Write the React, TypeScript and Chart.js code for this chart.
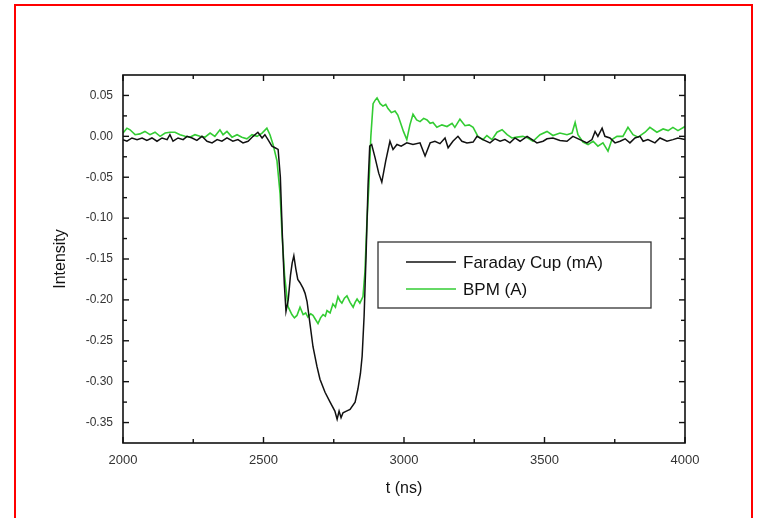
import React, { useEffect, useRef } from "react";
import { Chart, registerables } from "chart.js";

Chart.register(...registerables);

const fcTime = [2000,2014,2032,2050,2068,2085,2103,2121,2139,2157,2167,2178,2196,2214,2228,2246,2263,2281,2299,2317,2335,2352,2370,2391,2409,2427,2445,2463,2480,2495,2505,2516,2530,2541,2552,2560,2567,2574,2580,2588,2596,2602,2608,2615,2622,2630,2641,2648,2655,2665,2676,2690,2701,2719,2737,2754,2762,2769,2776,2783,2795,2808,2826,2836,2845,2851,2858,2865,2872,2878,2885,2897,2910,2921,2935,2950,2961,2975,2990,3010,3032,3057,3075,3093,3110,3128,3146,3157,3174,3192,3206,3224,3246,3260,3281,3306,3324,3342,3359,3377,3395,3413,3438,3456,3473,3495,3509,3530,3555,3580,3601,3626,3651,3669,3680,3690,3705,3715,3733,3751,3769,3787,3804,3822,3840,3851,3868,3893,3911,3936,3957,3975,4000];
const fcIntensity = [-0.004,-0.006,-0.002,-0.004,-0.002,-0.005,-0.002,-0.006,-0.002,-0.004,0.002,-0.006,-0.002,-0.004,0.0,-0.002,-0.005,0.0,-0.006,-0.008,-0.004,-0.006,-0.002,-0.006,-0.004,-0.008,-0.006,0.0,0.005,-0.002,0.002,-0.004,-0.012,-0.014,-0.016,-0.05,-0.12,-0.18,-0.214,-0.2,-0.17,-0.155,-0.146,-0.162,-0.175,-0.179,-0.186,-0.192,-0.202,-0.228,-0.257,-0.281,-0.297,-0.313,-0.325,-0.336,-0.346,-0.336,-0.344,-0.338,-0.336,-0.334,-0.325,-0.309,-0.29,-0.269,-0.22,-0.146,-0.06,-0.012,-0.01,-0.026,-0.045,-0.056,-0.03,-0.006,-0.016,-0.01,-0.012,-0.008,-0.01,-0.008,-0.024,-0.008,-0.006,-0.009,-0.002,-0.014,-0.006,0.0,-0.006,-0.008,-0.007,0.0,-0.004,-0.008,-0.003,-0.006,-0.004,-0.008,-0.002,-0.006,0.0,-0.004,-0.008,-0.006,-0.003,-0.002,-0.005,-0.006,0.0,-0.004,-0.008,-0.004,0.006,0.0,0.01,0.0,-0.002,-0.008,-0.006,-0.003,-0.008,-0.002,0.0,-0.006,-0.004,-0.008,-0.002,-0.006,-0.004,-0.002,-0.004];

const bpmTime = [2000,2014,2025,2043,2060,2078,2096,2114,2132,2150,2167,2185,2203,2221,2238,2256,2274,2292,2310,2327,2345,2356,2370,2388,2406,2423,2441,2459,2477,2495,2512,2523,2534,2548,2559,2566,2575,2587,2601,2610,2619,2630,2641,2650,2658,2668,2676,2685,2694,2703,2712,2720,2726,2737,2747,2756,2765,2772,2779,2788,2797,2808,2819,2826,2833,2843,2854,2861,2868,2875,2882,2890,2897,2904,2915,2925,2935,2943,2955,2968,2978,2986,2998,3010,3021,3032,3045,3057,3070,3082,3093,3103,3117,3135,3153,3171,3181,3199,3217,3232,3246,3263,3281,3295,3313,3331,3349,3367,3384,3402,3423,3441,3459,3484,3509,3530,3555,3580,3598,3609,3619,3637,3655,3673,3690,3708,3726,3740,3758,3779,3797,3815,3833,3858,3875,3900,3922,3940,3957,3975,4000];
const bpmIntensity = [0.004,0.01,0.008,0.002,0.003,0.006,0.002,0.005,0.0,0.004,0.005,0.005,0.002,0.0,-0.001,0.002,0.0,-0.001,0.004,0.0,0.008,0.002,0.006,-0.001,0.002,-0.001,-0.003,0.002,0.0,0.004,0.01,0.002,-0.01,-0.03,-0.07,-0.12,-0.17,-0.208,-0.218,-0.222,-0.219,-0.209,-0.218,-0.216,-0.221,-0.217,-0.219,-0.224,-0.229,-0.222,-0.218,-0.22,-0.213,-0.216,-0.205,-0.209,-0.196,-0.201,-0.204,-0.198,-0.195,-0.203,-0.209,-0.203,-0.199,-0.204,-0.196,-0.166,-0.105,-0.06,0.0,0.04,0.044,0.047,0.04,0.037,0.039,0.034,0.029,0.031,0.026,0.018,0.006,-0.004,0.014,0.027,0.02,0.018,0.022,0.02,0.016,0.017,0.011,0.014,0.012,0.016,0.011,0.021,0.013,0.014,0.011,0.0,-0.004,0.001,-0.004,0.005,0.008,0.002,-0.002,-0.001,0.0,-0.002,-0.006,0.002,0.006,0.001,0.004,0.002,0.004,0.017,0.002,-0.007,-0.01,-0.006,-0.012,-0.008,-0.018,-0.004,0.0,0.0,0.011,0.002,-0.001,0.005,0.011,0.005,0.009,0.007,0.011,0.007,0.012];

const seriesLabels = ["Faraday Cup (mA)", "BPM (A)"];
const seriesColors = ["#111111", "#33cc33"];

const xMajorTicks = [2000, 2500, 3000, 3500, 4000];
const xMinorTicks = [2250, 2750, 3250, 3750];
const yMajorTicks = [0.05, 0.0, -0.05, -0.1, -0.15, -0.2, -0.25, -0.3, -0.35];
const yMinorTicks = [0.075, 0.025, -0.025, -0.075, -0.125, -0.175, -0.225, -0.275, -0.325, -0.375];

const FONT = "'Liberation Sans', Arial, sans-serif";

const framePlugin = {
  id: "frameAndLegend",
  afterDatasetsDraw(chart: any) {
    const { ctx, chartArea, scales } = chart;
    const xs = scales.x;
    const ys = scales.y;
    const { left, right, top, bottom } = chartArea;
    ctx.save();
    ctx.strokeStyle = "#111";
    ctx.lineWidth = 1.6;
    ctx.strokeRect(left, top, right - left, bottom - top);
    ctx.lineWidth = 1.4;
    const tick = (x1: number, y1: number, x2: number, y2: number) => {
      ctx.beginPath();
      ctx.moveTo(x1, y1);
      ctx.lineTo(x2, y2);
      ctx.stroke();
    };
    const maj = 6, min = 4;
    xMajorTicks.forEach((v) => {
      const p = xs.getPixelForValue(v);
      tick(p, bottom, p, bottom - maj);
      tick(p, top, p, top + maj);
    });
    xMinorTicks.forEach((v) => {
      const p = xs.getPixelForValue(v);
      tick(p, bottom, p, bottom - min);
      tick(p, top, p, top + min);
    });
    yMajorTicks.forEach((v) => {
      const p = ys.getPixelForValue(v);
      tick(left, p, left + maj, p);
      tick(right, p, right - maj, p);
    });
    yMinorTicks.forEach((v) => {
      const p = ys.getPixelForValue(v);
      if (p < top + 1 || p > bottom - 1) return;
      tick(left, p, left + min, p);
      tick(right, p, right - min, p);
    });

    // legend box
    const bx = 378, by = 242, bw = 273, bh = 66;
    ctx.fillStyle = "#ffffff";
    ctx.fillRect(bx, by, bw, bh);
    ctx.strokeStyle = "#333";
    ctx.lineWidth = 1.3;
    ctx.strokeRect(bx, by, bw, bh);
    const rows = [262, 289];
    chart.data.datasets.forEach((ds: any, i: number) => {
      const y = rows[i];
      ctx.strokeStyle = ds.borderColor;
      ctx.lineWidth = 1.6;
      tick(406, y, 456, y);
      ctx.fillStyle = "#111";
      ctx.font = `17px ${FONT}`;
      ctx.textBaseline = "middle";
      ctx.textAlign = "left";
      ctx.fillText(ds.label, 463, y + 1);
    });
    ctx.restore();
  },
};

export default function App() {
  const canvasRef = useRef<HTMLCanvasElement | null>(null);

  useEffect(() => {
    if (!canvasRef.current) return;
    const chart = new Chart(canvasRef.current, {
      type: "line",
      data: {
        datasets: [
          {
            label: seriesLabels[0],
            data: fcTime.map((t, i) => ({ x: t, y: fcIntensity[i] })),
            borderColor: seriesColors[0],
            borderWidth: 1.5,
            pointRadius: 0,
            tension: 0,
            fill: false,
          },
          {
            label: seriesLabels[1],
            data: bpmTime.map((t, i) => ({ x: t, y: bpmIntensity[i] })),
            borderColor: seriesColors[1],
            borderWidth: 1.6,
            pointRadius: 0,
            tension: 0,
            fill: false,
          },
        ],
      },
      options: {
        animation: false,
        responsive: false,
        maintainAspectRatio: false,
        devicePixelRatio: 1,
        layout: { padding: { left: 0, top: 75, right: 72, bottom: 0 } },
        plugins: {
          legend: { display: false },
          tooltip: { enabled: false },
        },
        scales: {
          x: {
            type: "linear",
            min: 2000,
            max: 4000,
            grid: { display: false, drawTicks: false },
            border: { display: false },
            afterBuildTicks: (scale: any) => {
              scale.ticks = xMajorTicks.map((v) => ({ value: v }));
            },
            afterFit: (scale: any) => {
              scale.height = 75;
            },
            ticks: {
              padding: 10,
              color: "#333",
              font: { family: FONT, size: 13 },
              maxRotation: 0,
              autoSkip: false,
              callback: (v: any) => String(v),
            },
            title: {
              display: true,
              text: "t (ns)",
              color: "#111",
              font: { family: FONT, size: 16 },
              padding: { top: 0, bottom: 20 },
            },
          },
          y: {
            type: "linear",
            min: -0.375,
            max: 0.075,
            grid: { display: false, drawTicks: false },
            border: { display: false },
            afterBuildTicks: (scale: any) => {
              scale.ticks = yMajorTicks.map((v) => ({ value: v }));
            },
            afterFit: (scale: any) => {
              scale.width = 123;
            },
            ticks: {
              padding: 10,
              color: "#333",
              font: { family: FONT, size: 12 },
              autoSkip: false,
              callback: (v: any) => Number(v).toFixed(2),
            },
            title: {
              display: true,
              text: "Intensity",
              color: "#111",
              font: { family: FONT, size: 16 },
              padding: { top: 51, bottom: 0 },
            },
          },
        },
      },
      plugins: [framePlugin],
    });
    return () => chart.destroy();
  }, []);

  return (
    <div
      style={{
        position: "fixed",
        left: 0,
        top: 0,
        width: 757,
        height: 518,
        overflow: "hidden",
        background: "#ffffff",
      }}
    >
      <canvas
        ref={canvasRef}
        width={757}
        height={518}
        style={{ position: "absolute", left: 0, top: 0, width: 757, height: 518 }}
      />
      <div
        style={{
          position: "absolute",
          left: 14,
          top: 4,
          width: 739,
          height: 540,
          border: "2px solid #ff0000",
          boxSizing: "border-box",
          pointerEvents: "none",
        }}
      />
    </div>
  );
}
